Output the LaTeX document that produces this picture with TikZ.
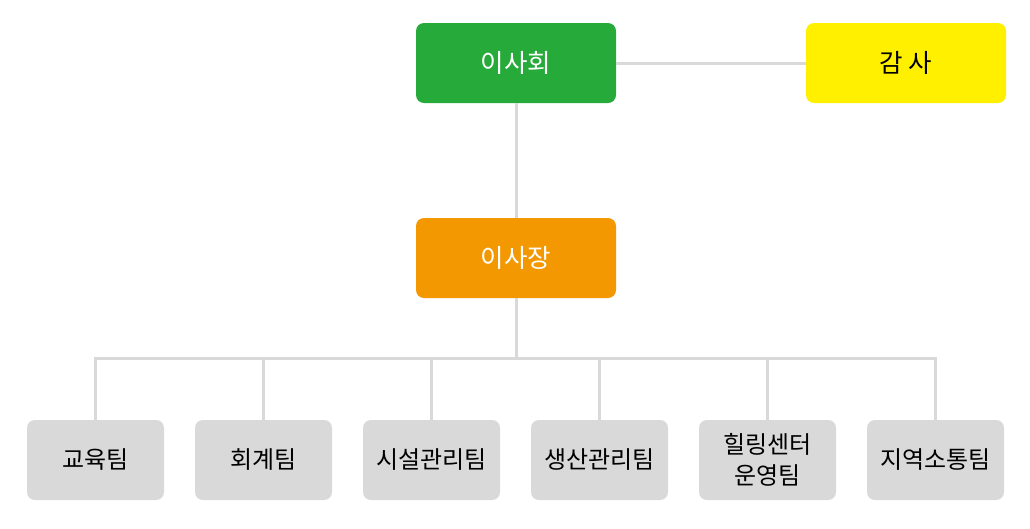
\documentclass[tikz,border=0pt]{standalone}
\usepackage{fontspec}
\newfontfamily\kr{Noto Sans CJK KR}
\definecolor{cgreen}{HTML}{26AB3A}
\definecolor{corange}{HTML}{F39800}
\definecolor{cyellow}{HTML}{FFF000}
\definecolor{cgray}{HTML}{D9D9D9}
\begin{document}
\begin{tikzpicture}[x=1pt,y=-1pt,
  topbox/.style={rounded corners=8pt,minimum width=200pt,minimum height=80pt,inner sep=0pt,font=\kr\fontsize{25.5}{30}\selectfont},
  teambox/.style={rounded corners=8pt,fill=cgray,minimum width=137pt,minimum height=80pt,inner sep=0pt,align=center,font=\kr\fontsize{24}{31}\selectfont},
  link/.style={draw=cgray,line width=3pt}]
\useasboundingbox (0,0) rectangle (1030,528);
\node[topbox,fill=cgreen,text=white] (board) at (516,63) {이사회};
\node[topbox,fill=cyellow,text=black] (audit) at (906,63) {감 사};
\node[topbox,fill=corange,text=white] (chair) at (516,258) {이사장};
\node[teambox] (t1) at (95.5,460) {교육팀};
\node[teambox] (t2) at (263.5,460) {회계팀};
\node[teambox] (t3) at (431.5,460) {시설관리팀};
\node[teambox] (t4) at (599.5,460) {생산관리팀};
\node[teambox] (t5) at (767.5,460) {힐링센터\\운영팀};
\node[teambox] (t6) at (935.5,460) {지역소통팀};
\coordinate (bar) at (516,358);
\draw[link] (board.east) -- (audit.west);
\draw[link] (board.south) -- (chair.north);
\draw[link] (chair.south) -- (bar);
\foreach \t in {t1,t2,t3,t4,t5,t6}{
  \draw[link] (bar) -| (\t.north);
}
\end{tikzpicture}
\end{document}
